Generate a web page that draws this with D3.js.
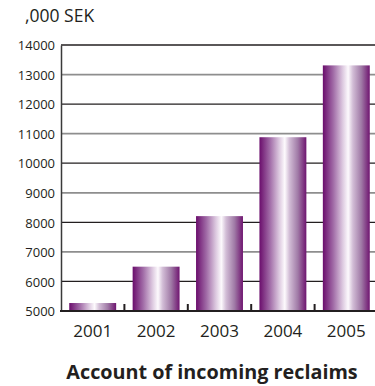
<!DOCTYPE html>
<html>
<head>
<meta charset="utf-8">
<script src="https://cdn.jsdelivr.net/npm/d3@7"></script>
<style>
  body { margin: 0; background: #fff; }
  svg text { font-family: "Open Sans", sans-serif; fill: #231f20; }
</style>
</head>
<body>
<div id="chart"></div>
<script>
// data
var years = ["2001", "2002", "2003", "2004", "2005"];
var reclaims = [5270, 6500, 8210, 10880, 13310];
var yTicks = [5000, 6000, 7000, 8000, 9000, 10000, 11000, 12000, 13000, 14000];

var width = 375,
  height = 386,
  margin = { top: 45, right: -3, bottom: 75, left: 61 };

var svg = d3.select("#chart").append("svg")
  .attr("width", width)
  .attr("height", height);

// bar gradient, dark purple at edges, white highlight a bit right of center
var grad = svg.append("defs").append("linearGradient")
  .attr("id", "barGrad")
  .attr("x1", "0%").attr("x2", "100%")
  .attr("y1", "0%").attr("y2", "0%");
[
  ["0%", "#6a0d6c"],
  ["22%", "#a06aa6"],
  ["42%", "#dcc8df"],
  ["54%", "#fdfafd"],
  ["64%", "#d2bdd6"],
  ["82%", "#a07aa6"],
  ["100%", "#6f1570"]
].forEach(function (s) {
  grad.append("stop").attr("offset", s[0]).attr("stop-color", s[1]);
});

var x = d3.scaleBand()
  .domain(years)
  .range([margin.left, width - margin.right])
  .paddingInner(0.26)
  .paddingOuter(0.13);

var y = d3.scaleLinear()
  .domain([5000, 14000])
  .range([height - margin.bottom, margin.top]);

// horizontal gridlines, alternating black / grey
svg.append("g").selectAll("line")
  .data(yTicks.slice(1))
  .enter().append("line")
  .attr("x1", margin.left)
  .attr("x2", width)
  .attr("y1", d => y(d))
  .attr("y2", d => y(d))
  .attr("stroke", d => (d / 1000) % 2 == 0 ? "#231f20" : "#8e8e8e")
  .attr("stroke-width", d => (d / 1000) % 2 == 0 ? 1.3 : 1.8);

// y axis
var yAxis = d3.axisLeft(y)
  .tickValues(yTicks)
  .tickSize(0)
  .tickPadding(6)
  .tickFormat(d3.format("d"));
var gy = svg.append("g")
  .attr("transform", "translate(" + margin.left + ",0)")
  .call(yAxis);
gy.select(".domain").attr("stroke", "#3a3a3a").attr("stroke-width", 1.5);
gy.selectAll("text")
  .style("font-size", "13px")
  .attr("dy", "0.36em");

// bars
svg.append("g").selectAll("rect")
  .data(years)
  .enter().append("rect")
  .attr("x", d => x(d))
  .attr("width", x.bandwidth())
  .attr("y", (d, i) => y(reclaims[i]))
  .attr("height", (d, i) => y(5000) - y(reclaims[i]))
  .attr("fill", "url(#barGrad)");

// x axis baseline and small separator ticks
var base = y(5000);
svg.append("line")
  .attr("x1", margin.left - 1)
  .attr("x2", width)
  .attr("y1", base)
  .attr("y2", base)
  .attr("stroke", "#231f20")
  .attr("stroke-width", 2.2);

var sep = x.step() * x.paddingInner() / 2;
svg.append("g").selectAll("line")
  .data(years.slice(1))
  .enter().append("line")
  .attr("x1", d => x(d) - sep)
  .attr("x2", d => x(d) - sep)
  .attr("y1", base)
  .attr("y2", base - 7)
  .attr("stroke", "#231f20")
  .attr("stroke-width", 2);

// x labels
svg.append("g").selectAll("text")
  .data(years)
  .enter().append("text")
  .attr("x", d => x(d) + x.bandwidth() / 2)
  .attr("y", base + 26)
  .attr("text-anchor", "middle")
  .style("font-size", "17px")
  .text(d => d);

// unit label
svg.append("text")
  .attr("x", 25)
  .attr("y", 22)
  .style("font-size", "17.5px")
  .text(",000 SEK");

// title
svg.append("text")
  .attr("x", 212)
  .attr("y", 379)
  .attr("text-anchor", "middle")
  .style("font-size", "19.8px")
  .style("font-weight", "bold")
  .text("Account of incoming reclaims");
</script>
</body>
</html>
